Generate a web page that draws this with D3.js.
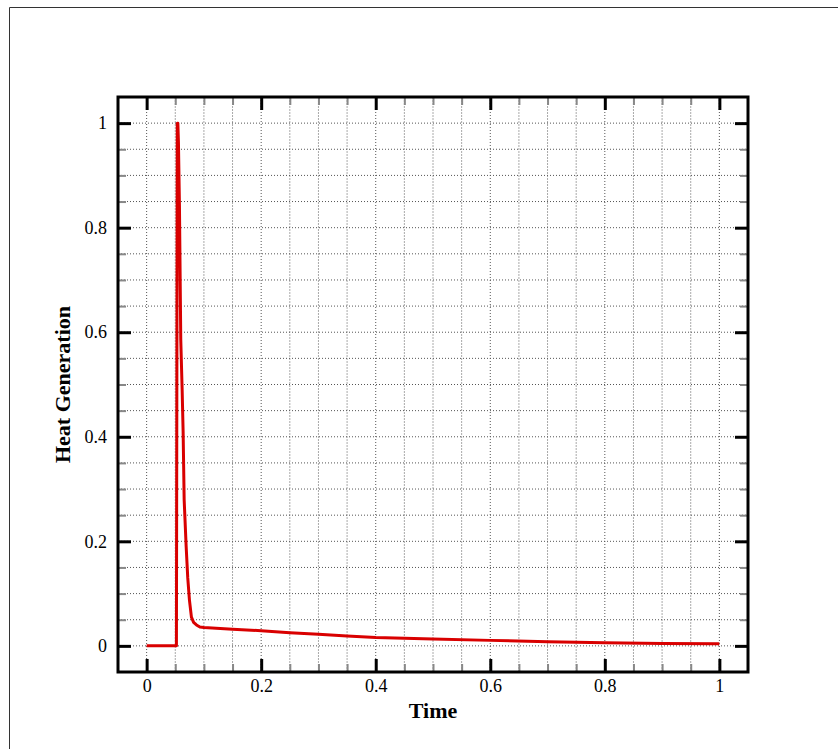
<!DOCTYPE html>
<html>
<head>
<meta charset="utf-8">
<script src="https://cdn.jsdelivr.net/npm/d3@7"></script>
<style>
  body { margin: 0; background: #fff; }
  svg text { font-family: "Liberation Serif", "Times New Roman", serif; }
</style>
</head>
<body>
<svg id="chart" width="838" height="749"></svg>
<script>
// Heat generation over time
const time = [0, 0.052, 0.0535, 0.0545, 0.0555, 0.0573, 0.0596, 0.062, 0.0637, 0.0655, 0.069, 0.0718,
              0.0747, 0.0782, 0.082, 0.087, 0.093, 0.1, 0.15, 0.2, 0.25, 0.3, 0.35, 0.4, 0.5, 0.6,
              0.7, 0.8, 0.9, 1.0];
const heat = [0, 0, 1.0, 1.0, 0.965, 0.84, 0.585, 0.49, 0.41, 0.28, 0.19, 0.13,
              0.088, 0.055, 0.045, 0.04, 0.036, 0.035, 0.032, 0.029, 0.025, 0.022, 0.019, 0.016, 0.013, 0.0105,
              0.008, 0.0058, 0.0047, 0.004];

const majorTicks = [0, 0.2, 0.4, 0.6, 0.8, 1];
const minorTicks = [0.05, 0.1, 0.15, 0.25, 0.3, 0.35, 0.45, 0.5, 0.55, 0.65, 0.7, 0.75, 0.85, 0.9, 0.95];
const tickLabels = ['0', '0.2', '0.4', '0.6', '0.8', '1'];

const svg = d3.select('#chart');

// page border (left and top only)
svg.append('path')
    .attr('d', 'M9.5,749 L9.5,7.5 L838,7.5')
    .attr('fill', 'none')
    .attr('stroke', '#333')
    .attr('stroke-width', 1);

const plotLeft = 118, plotRight = 748, plotTop = 97, plotBottom = 672;

const x = d3.scaleLinear().domain([-0.05, 1.05]).range([plotLeft, plotRight]);
const y = d3.scaleLinear().domain([-0.05, 1.05]).range([plotBottom, plotTop]);

// grid lines
const allTicks = majorTicks.concat(minorTicks);
const grid = svg.append('g');
grid.selectAll('.vgrid')
    .data(allTicks)
    .enter().append('line')
    .attr('x1', d => x(d)).attr('x2', d => x(d))
    .attr('y1', plotTop).attr('y2', plotBottom)
    .attr('stroke', d => majorTicks.includes(d) ? '#555' : '#aaa')
    .attr('stroke-width', 1)
    .attr('stroke-dasharray', d => majorTicks.includes(d) ? '1,2' : '2,1');
grid.selectAll('.hgrid')
    .data(allTicks)
    .enter().append('line')
    .attr('x1', plotLeft).attr('x2', plotRight)
    .attr('y1', d => y(d)).attr('y2', d => y(d))
    .attr('stroke', '#555')
    .attr('stroke-width', 1)
    .attr('stroke-dasharray', '1,2');

// curve
const line = d3.line()
    .x((d, i) => x(time[i]))
    .y(d => y(d));

svg.append('path')
    .datum(heat)
    .attr('d', line)
    .attr('fill', 'none')
    .attr('stroke', '#d90000')
    .attr('stroke-width', 3)
    .attr('stroke-linejoin', 'round');

// axes: major ticks with labels, minor ticks without, mirrored on top/right
function styleAxis(g, major) {
    g.select('.domain').remove();
    g.selectAll('.tick line')
        .attr('stroke', major ? '#000' : '#888')
        .attr('stroke-width', major ? 3 : 2);
    g.selectAll('.tick text')
        .attr('fill', '#000')
        .style('font-size', '18px');
}

svg.append('g')
    .attr('transform', `translate(0,${plotBottom})`)
    .call(d3.axisBottom(x).tickValues(minorTicks).tickSize(-8).tickFormat(''))
    .call(g => styleAxis(g, false));
svg.append('g')
    .attr('transform', `translate(0,${plotBottom})`)
    .call(d3.axisBottom(x).tickValues(majorTicks).tickSize(-13).tickPadding(7)
        .tickFormat((d, i) => tickLabels[i]))
    .call(g => styleAxis(g, true));

svg.append('g')
    .attr('transform', `translate(0,${plotTop})`)
    .call(d3.axisTop(x).tickValues(minorTicks).tickSize(-8).tickFormat(''))
    .call(g => styleAxis(g, false));
svg.append('g')
    .attr('transform', `translate(0,${plotTop})`)
    .call(d3.axisTop(x).tickValues(majorTicks).tickSize(-13).tickFormat(''))
    .call(g => styleAxis(g, true));

svg.append('g')
    .attr('transform', `translate(${plotLeft},0)`)
    .call(d3.axisLeft(y).tickValues(minorTicks).tickSize(-8).tickFormat(''))
    .call(g => styleAxis(g, false));
svg.append('g')
    .attr('transform', `translate(${plotLeft},0)`)
    .call(d3.axisLeft(y).tickValues(majorTicks).tickSize(-13).tickPadding(11)
        .tickFormat((d, i) => tickLabels[i]))
    .call(g => styleAxis(g, true));

svg.append('g')
    .attr('transform', `translate(${plotRight},0)`)
    .call(d3.axisRight(y).tickValues(minorTicks).tickSize(-8).tickFormat(''))
    .call(g => styleAxis(g, false));
svg.append('g')
    .attr('transform', `translate(${plotRight},0)`)
    .call(d3.axisRight(y).tickValues(majorTicks).tickSize(-13).tickFormat(''))
    .call(g => styleAxis(g, true));

// frame
svg.append('rect')
    .attr('x', plotLeft).attr('y', plotTop)
    .attr('width', plotRight - plotLeft).attr('height', plotBottom - plotTop)
    .attr('fill', 'none')
    .attr('stroke', '#000')
    .attr('stroke-width', 3);

// axis titles
svg.append('text')
    .attr('x', (plotLeft + plotRight) / 2)
    .attr('y', 718)
    .attr('text-anchor', 'middle')
    .style('font-size', '22px')
    .style('font-weight', 'bold')
    .text('Time');

svg.append('text')
    .attr('transform', `translate(70,${(plotTop + plotBottom) / 2}) rotate(-90)`)
    .attr('text-anchor', 'middle')
    .style('font-size', '22px')
    .style('font-weight', 'bold')
    .text('Heat Generation');
</script>
</body>
</html>
